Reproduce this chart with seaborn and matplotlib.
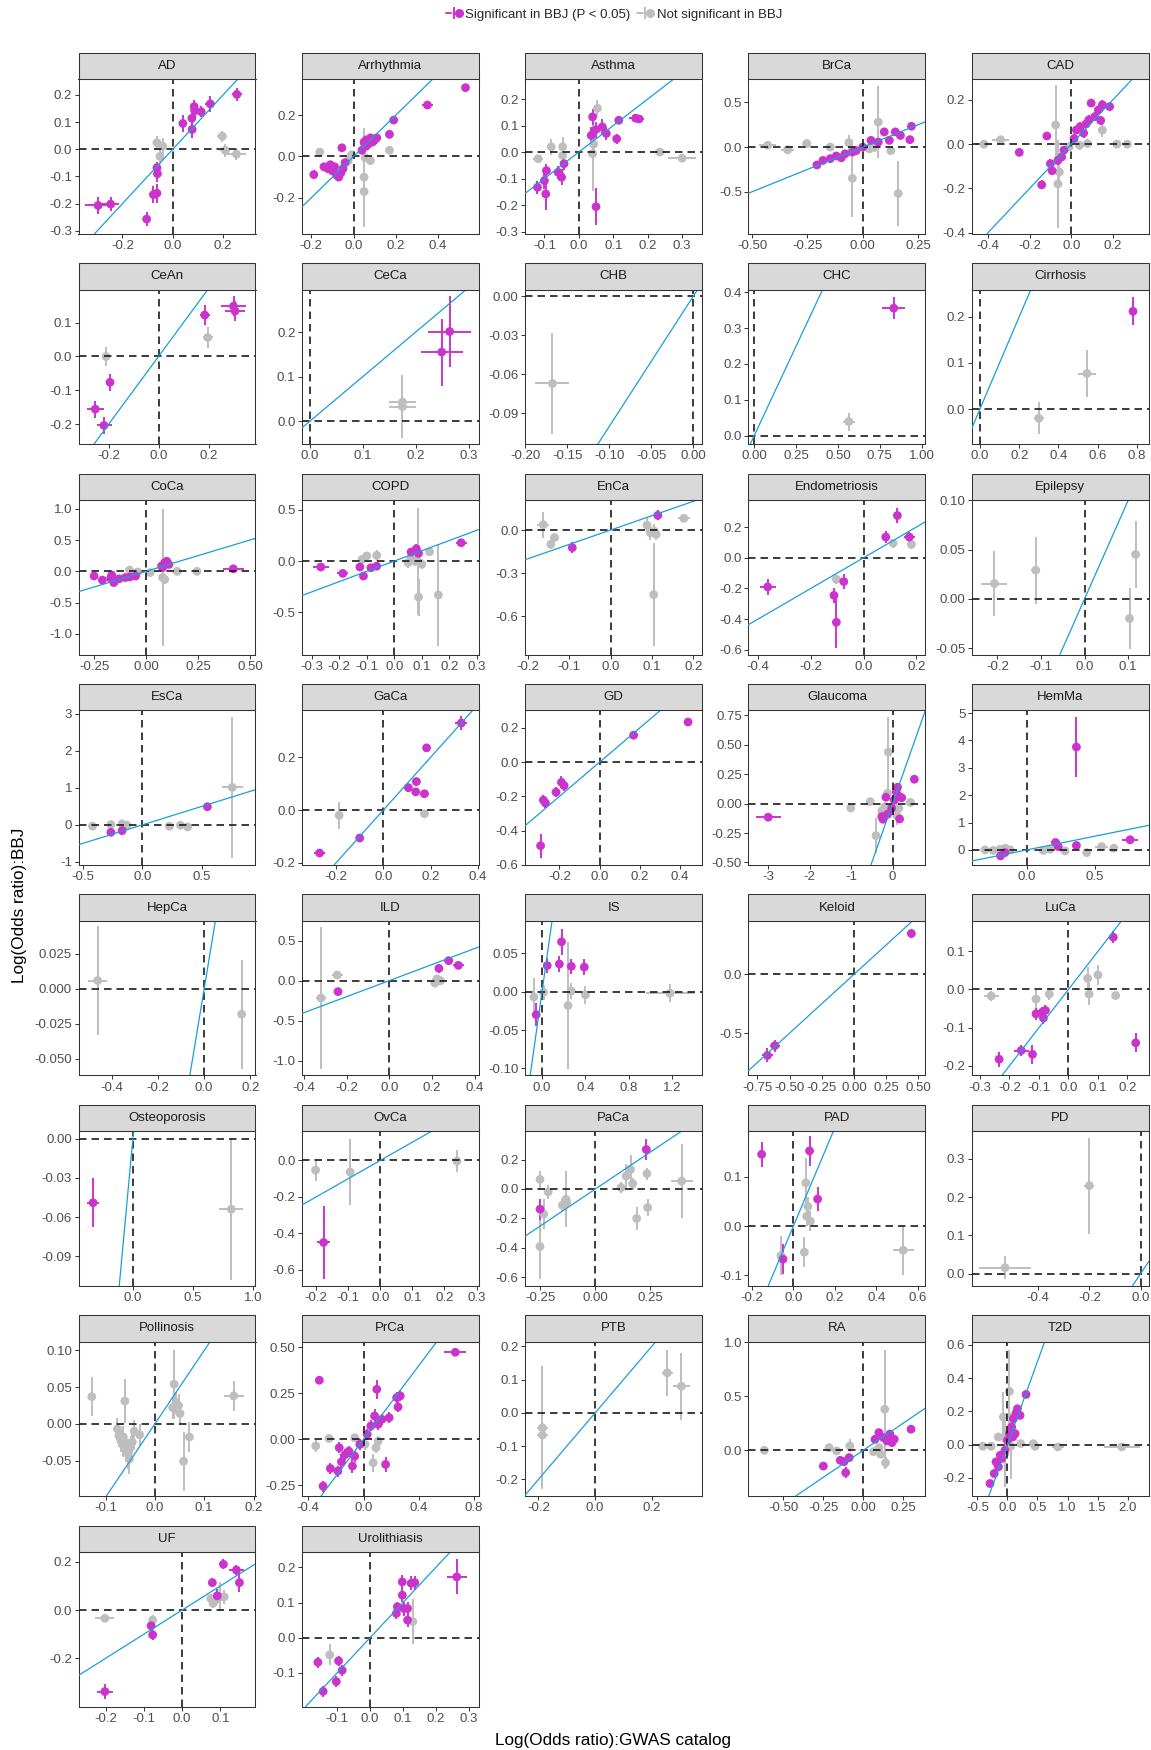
import numpy as np
import pandas as pd
import matplotlib
matplotlib.use("Agg")
import matplotlib.pyplot as plt
import seaborn as sns
from matplotlib.patches import Rectangle
from matplotlib.lines import Line2D
from matplotlib.legend_handler import HandlerTuple

# ---------------- data: (x, y, x_err, y_err, significant) ----------------
AD = [(-0.297,-0.207,0.051,0.03,1),(-0.247,-0.202,0.033,0.025,1),(-0.104,-0.257,0.01,0.025,1),
      (-0.077,-0.167,0.01,0.03,1),(-0.063,-0.162,0.01,0.035,1),(-0.061,-0.090,0.01,0.03,1),
      (-0.063,-0.068,0.01,0.02,1),(0.040,0.095,0.01,0.03,1),(0.077,0.073,0.01,0.03,1),
      (0.076,0.114,0.01,0.025,1),(0.085,0.157,0.012,0.025,1),(0.087,0.142,0.012,0.025,1),
      (0.113,0.138,0.012,0.02,1),(0.149,0.167,0.02,0.03,1),(0.255,0.202,0.02,0.025,1),
      (-0.063,0.024,0.012,0.025,0),(-0.040,0.011,0.012,0.03,0),(-0.051,-0.026,0.01,0.03,0),
      (0.197,0.048,0.02,0.02,0),(0.209,-0.004,0.02,0.025,0),(0.253,-0.018,0.04,0.02,0)]
Arrhythmia = [(-0.188,-0.088,0.01,0.02,1),(-0.14,-0.05,0.01,0.02,1),(-0.12,-0.06,0.01,0.02,1),
      (-0.10,-0.07,0.01,0.02,1),(-0.09,-0.05,0.01,0.02,1),(-0.08,-0.09,0.01,0.02,1),(-0.06,-0.08,0.01,0.02,1),
      (-0.05,-0.06,0.01,0.02,1),(-0.04,-0.03,0.01,0.02,1),(-0.11,-0.04,0.01,0.02,1),(-0.07,-0.10,0.01,0.02,1),
      (-0.055,0.042,0.01,0.02,1),(0.05,0.07,0.01,0.02,1),(0.06,0.08,0.01,0.02,1),(0.07,0.06,0.01,0.02,1),
      (0.08,0.09,0.01,0.02,1),(0.09,0.07,0.01,0.02,1),(0.10,0.08,0.01,0.02,1),(0.11,0.09,0.01,0.02,1),
      (0.06,0.05,0.01,0.02,1),(0.04,0.03,0.01,0.02,1),(0.17,0.107,0.01,0.02,1),(0.19,0.176,0.01,0.02,1),
      (0.35,0.249,0.025,0.015,1),(0.53,0.333,0.01,0.015,1),
      (-0.16,0.021,0.02,0.015,0),(-0.025,-0.02,0.01,0.02,0),(-0.01,0.008,0.01,0.02,0),
      (0.05,-0.10,0.01,0.05,0),(0.05,-0.17,0.01,0.17,0),(0.055,-0.006,0.01,0.02,0),(0.05,0.06,0.01,0.08,0),
      (0.17,0.03,0.01,0.02,0),(0.08,-0.02,0.01,0.02,0)]
Asthma = [(-0.12,-0.133,0.01,0.025,1),(-0.10,-0.108,0.01,0.03,1),(-0.094,-0.07,0.01,0.025,1),
      (-0.096,-0.158,0.01,0.06,1),(-0.06,-0.076,0.01,0.025,1),(-0.05,-0.095,0.01,0.03,1),
      (-0.043,-0.044,0.01,0.025,1),(0.04,0.133,0.01,0.03,1),(0.036,0.063,0.01,0.03,1),
      (0.05,0.085,0.01,0.03,1),(0.068,0.095,0.01,0.03,1),(0.08,0.07,0.01,0.025,1),
      (0.05,-0.206,0.01,0.07,1),(0.11,0.05,0.01,0.02,1),(0.116,0.12,0.01,0.015,1),
      (0.165,0.128,0.02,0.01,1),(0.175,0.125,0.015,0.01,1),
      (-0.118,-0.025,0.015,0.015,0),(-0.08,0.02,0.01,0.03,0),(-0.047,0.02,0.01,0.03,0),
      (-0.047,-0.013,0.01,0.07,0),(0.04,-0.006,0.01,0.14,0),(0.054,0.165,0.01,0.03,0),
      (0.043,0.03,0.01,0.03,0),(0.235,0.0,0.02,0.01,0),(0.3,-0.023,0.04,0.01,0)]
BrCa = [(-0.43,0.02,0.04,0.03,0),(-0.34,-0.03,0.03,0.03,0),(-0.253,0.04,0.02,0.03,0),(-0.147,0.0,0.015,0.03,0),
      (-0.063,0.05,0.01,0.08,0),(-0.047,-0.35,0.01,0.43,0),(0.07,0.28,0.01,0.4,0),(0.127,-0.04,0.01,0.05,0),
      (0.16,-0.52,0.01,0.36,0),(0.053,0.0,0.01,0.05,0),(0.03,-0.02,0.01,0.05,0),
      (-0.207,-0.2,0.012,0.03,1),(-0.147,-0.13,0.012,0.03,1),(-0.12,-0.1,0.012,0.03,1),(-0.097,-0.12,0.012,0.03,1),
      (-0.08,-0.075,0.012,0.03,1),(-0.047,-0.056,0.012,0.03,1),(-0.03,-0.04,0.012,0.03,1),(0.037,0.075,0.012,0.03,1),
      (0.07,0.056,0.012,0.03,1),(0.097,0.17,0.012,0.03,1),(0.12,0.075,0.012,0.03,1),(0.147,0.17,0.012,0.03,1),
      (0.17,0.13,0.012,0.03,1),(0.213,0.083,0.012,0.03,1),(0.22,0.233,0.012,0.03,1),(-0.18,-0.15,0.012,0.03,1),
      (0.0,0.0,0.012,0.03,1)]
CAD = [(-0.42,0.0,0.04,0.015,0),(-0.34,0.02,0.04,0.015,0),(-0.075,0.087,0.01,0.18,0),(-0.064,-0.18,0.01,0.2,0),
      (-0.057,-0.126,0.01,0.04,0),(0.15,0.064,0.01,0.03,0),(0.22,0.0,0.02,0.015,0),(0.27,0.0,0.02,0.015,0),
      (0.04,-0.005,0.01,0.02,0),(0.078,0.003,0.01,0.02,0),(-0.01,-0.012,0.01,0.02,0),
      (-0.25,-0.037,0.01,0.015,1),(-0.117,0.037,0.01,0.015,1),(-0.142,-0.184,0.01,0.02,1),(-0.1,-0.088,0.01,0.02,1),
      (-0.092,-0.12,0.01,0.02,1),(-0.064,-0.073,0.01,0.02,1),(-0.046,-0.058,0.01,0.02,1),(-0.035,-0.027,0.01,0.02,1),
      (0.025,0.064,0.01,0.02,1),(0.043,0.079,0.01,0.02,1),(0.071,0.091,0.01,0.02,1),(0.085,0.11,0.01,0.02,1),
      (0.096,0.186,0.01,0.02,1),(0.114,0.125,0.01,0.02,1),(0.131,0.155,0.01,0.02,1),(0.15,0.178,0.01,0.02,1),
      (0.185,0.17,0.01,0.02,1),(0.142,0.107,0.01,0.02,1),(0.06,0.05,0.01,0.02,1),(0.014,0.026,0.01,0.02,1)]
CeAn = [(-0.253,-0.155,0.035,0.025,1),(-0.218,-0.203,0.03,0.025,1),(-0.194,-0.076,0.015,0.025,1),
      (0.185,0.122,0.02,0.03,1),(0.3,0.148,0.05,0.03,1),(0.306,0.134,0.04,0.03,1),
      (-0.21,0.0,0.015,0.027,0),(0.197,0.056,0.02,0.03,0)]
CeCa = [(0.264,0.201,0.04,0.08,1),(0.249,0.155,0.04,0.075,1),(0.175,0.043,0.025,0.01,0),(0.175,0.033,0.025,0.07,0)]
CHB = [(-0.168,-0.067,0.02,0.039,0)]
CHC = [(0.833,0.356,0.07,0.03,1),(0.564,0.039,0.035,0.025,0)]
Cirrhosis = [(0.30,-0.02,0.025,0.035,0),(0.545,0.077,0.045,0.05,0),(0.78,0.212,0.02,0.03,1)]
CoCa = [(-0.25,-0.075,0.015,0.03,1),(-0.21,-0.14,0.015,0.03,1),(-0.17,-0.11,0.01,0.03,1),(-0.155,-0.18,0.01,0.04,1),
      (-0.13,-0.12,0.01,0.03,1),(-0.1,-0.1,0.01,0.03,1),(-0.078,-0.09,0.01,0.03,1),(-0.05,-0.075,0.01,0.03,1),
      (-0.165,-0.06,0.01,0.03,1),(0.075,0.085,0.01,0.04,1),(0.09,0.14,0.01,0.05,1),(0.11,0.11,0.01,0.05,1),
      (0.08,0.06,0.01,0.04,1),(0.10,0.16,0.01,0.04,1),(0.42,0.04,0.05,0.03,1),
      (-0.08,0.02,0.01,0.03,0),(-0.04,-0.01,0.01,0.03,0),(0.08,-0.1,0.01,1.1,0),(0.15,0.0,0.01,0.03,0),
      (0.245,0.0,0.015,0.03,0),(0.02,-0.02,0.01,0.03,0),(0.09,-0.13,0.01,0.08,0)]
COPD = [(-0.267,-0.058,0.03,0.02,1),(-0.187,-0.12,0.02,0.03,1),(-0.112,-0.146,0.01,0.03,1),(-0.125,-0.058,0.01,0.04,1),
      (-0.085,-0.065,0.01,0.04,1),(-0.064,-0.05,0.01,0.03,1),(0.061,0.088,0.01,0.04,1),(0.08,0.12,0.01,0.05,1),
      (0.088,0.075,0.01,0.04,1),(0.243,0.178,0.02,0.02,1),
      (-0.117,0.016,0.01,0.04,0),(-0.1,0.05,0.01,0.04,0),(-0.064,0.055,0.01,0.05,0),(0.05,-0.016,0.01,0.05,0),
      (0.075,0.0,0.01,0.05,0),(0.085,0.0,0.01,0.52,0),(0.088,-0.35,0.01,0.18,0),(0.16,-0.33,0.01,0.5,0),
      (0.128,0.09,0.01,0.03,0),(0.061,0.03,0.01,0.03,0),(0.1,-0.03,0.01,0.05,0)]
EnCa = [(-0.093,-0.123,0.01,0.04,1),(0.114,0.102,0.01,0.035,1),(-0.163,0.037,0.015,0.09,0),(-0.145,-0.1,0.01,0.03,0),
      (-0.136,-0.053,0.01,0.03,0),(0.088,0.033,0.01,0.05,0),(0.096,-0.02,0.01,0.05,0),(0.105,-0.007,0.01,0.05,0),
      (0.104,-0.45,0.01,0.36,0),(0.177,0.081,0.015,0.02,0),(0.11,-0.03,0.01,0.04,0)]
Endometriosis = [(-0.363,-0.19,0.03,0.05,1),(-0.112,-0.245,0.01,0.05,1),(-0.103,-0.42,0.01,0.17,1),
      (-0.075,-0.155,0.01,0.05,1),(0.084,0.135,0.01,0.04,1),(0.128,0.275,0.01,0.05,1),(0.173,0.135,0.02,0.03,1),
      (-0.103,-0.14,0.01,0.03,0),(0.112,0.095,0.01,0.03,0),(0.181,0.087,0.015,0.03,0)]
Epilepsy = [(-0.207,0.0155,0.03,0.033,0),(-0.112,0.029,0.01,0.034,0),(0.103,-0.02,0.005,0.031,0),(0.117,0.045,0.01,0.034,0)]
EsCa = [(-0.418,-0.036,0.04,0.05,0),(-0.264,0.01,0.02,0.05,0),(-0.17,0.027,0.02,0.05,0),(-0.129,-0.01,0.02,0.05,0),
      (0.227,-0.036,0.02,0.05,0),(0.32,-0.01,0.02,0.05,0),(0.38,-0.055,0.02,0.05,0),(0.755,1.01,0.09,1.9,0),
      (-0.264,-0.2,0.02,0.06,1),(-0.17,-0.155,0.02,0.06,1),(0.546,0.49,0.02,0.06,1)]
GaCa = [(-0.27,-0.163,0.025,0.01,1),(-0.1,-0.106,0.01,0.015,1),(0.106,0.085,0.01,0.015,1),(0.14,0.108,0.01,0.015,1),
      (0.137,0.069,0.01,0.012,1),(0.174,0.062,0.02,0.015,1),(0.183,0.236,0.015,0.015,1),(0.33,0.33,0.025,0.025,1),
      (-0.187,-0.02,0.01,0.05,0),(0.174,-0.014,0.01,0.01,0)]
GD = [(-0.294,-0.488,0.01,0.07,1),(-0.28,-0.222,0.01,0.03,1),(-0.27,-0.238,0.01,0.03,1),(-0.217,-0.175,0.01,0.03,1),
      (-0.19,-0.118,0.01,0.035,1),(-0.177,-0.137,0.01,0.03,1),(0.169,0.157,0.02,0.02,1),(0.44,0.234,0.01,0.025,1)]
Glaucoma = [(-3.0,-0.116,0.3,0.01,1),(-0.16,0.054,0.03,0.02,1),(-0.26,-0.11,0.03,0.03,1),(-0.23,-0.133,0.03,0.03,1),
      (-0.12,-0.09,0.03,0.03,1),(0.09,0.1,0.03,0.03,1),(0.12,0.139,0.03,0.03,1),(0.17,0.06,0.03,0.03,1),
      (0.22,0.05,0.03,0.02,1),(0.17,-0.13,0.03,0.02,1),(0.525,0.207,0.03,0.02,1),(0.04,0.03,0.03,0.03,1),
      (-0.02,-0.04,0.03,0.03,1),
      (-1.01,-0.037,0.1,0.02,0),(-0.54,0.017,0.05,0.02,0),(-0.4,-0.272,0.03,0.15,0),(-0.1,0.437,0.03,0.3,0),
      (-0.12,0.088,0.03,0.07,0),(-0.26,-0.06,0.03,0.03,0),(-0.18,-0.025,0.03,0.03,0),(-0.06,-0.06,0.03,0.04,0),
      (0.06,-0.01,0.03,0.03,0),(0.15,-0.04,0.03,0.03,0),(0.43,0.01,0.03,0.02,0),(-0.14,-0.08,0.03,0.03,0),
      (0.1,-0.1,0.03,0.08,0)]
HemMa = [(-0.196,-0.22,0.02,0.08,1),(-0.163,-0.1,0.02,0.08,1),(0.21,0.27,0.03,0.08,1),(0.364,0.16,0.02,0.08,1),
      (0.364,3.76,0.02,1.1,1),(0.76,0.37,0.06,0.08,1),(0.23,0.12,0.02,0.08,1),
      (-0.31,0.0,0.02,0.06,0),(-0.25,-0.02,0.02,0.06,0),(-0.2,0.02,0.02,0.06,0),(-0.16,0.06,0.02,0.06,0),
      (-0.125,0.0,0.02,0.06,0),(0.12,-0.02,0.02,0.06,0),(0.17,0.02,0.02,0.06,0),(0.28,-0.04,0.02,0.06,0),
      (0.44,-0.1,0.02,0.06,0),(0.55,0.12,0.05,0.06,0),(0.64,0.06,0.03,0.06,0)]
HepCa = [(-0.46,0.006,0.04,0.039,0),(0.162,-0.018,0.005,0.039,0)]
ILD = [(-0.24,-0.137,0.02,0.05,1),(0.233,0.153,0.02,0.06,1),(0.279,0.249,0.02,0.05,1),(0.324,0.19,0.025,0.04,1),
      (-0.32,-0.216,0.025,0.88,0),(-0.244,0.07,0.025,0.04,0),(0.214,-0.03,0.02,0.04,0),(0.223,0.02,0.02,0.05,0),
      (0.24,0.0,0.02,0.05,0)]
IS = [(-0.054,-0.03,0.01,0.015,1),(0.048,0.034,0.01,0.01,1),(0.16,0.036,0.01,0.01,1),(0.18,0.065,0.01,0.017,1),
      (0.27,0.033,0.01,0.01,1),(0.39,0.032,0.02,0.01,1),
      (-0.075,-0.007,0.01,0.025,0),(0.014,-0.001,0.01,0.01,0),(0.24,-0.018,0.01,0.083,0),(0.27,0.001,0.01,0.01,0),
      (0.4,-0.004,0.03,0.012,0),(1.18,-0.002,0.22,0.012,0)]
Keloid = [(-0.672,-0.69,0.04,0.06,1),(-0.615,-0.607,0.04,0.05,1),(0.445,0.347,0.03,0.04,1)]
LuCa = [(-0.235,-0.183,0.01,0.02,1),(-0.16,-0.16,0.025,0.015,1),(-0.122,-0.17,0.01,0.025,1),(-0.11,-0.064,0.01,0.015,1),
      (-0.09,-0.06,0.01,0.015,1),(-0.085,-0.075,0.01,0.015,1),(-0.078,-0.055,0.01,0.015,1),(0.152,0.137,0.01,0.015,1),
      (0.228,-0.14,0.01,0.025,1),
      (-0.262,-0.017,0.025,0.012,0),(-0.11,-0.025,0.01,0.025,0),(-0.065,-0.012,0.01,0.015,0),(0.065,0.029,0.01,0.03,0),
      (0.07,-0.012,0.01,0.03,0),(0.1,0.038,0.01,0.025,0),(0.16,-0.016,0.01,0.01,0)]
Osteoporosis = [(-0.33,-0.049,0.05,0.019,1),(0.817,-0.054,0.1,0.054,0)]
OvCa = [(-0.177,-0.45,0.02,0.2,1),(-0.202,-0.053,0.01,0.06,0),(-0.094,-0.064,0.01,0.18,0),(0.239,-0.004,0.01,0.06,0)]
PaCa = [(-0.252,-0.137,0.02,0.07,1),(0.232,0.268,0.01,0.07,1),
      (-0.252,0.065,0.01,0.06,0),(-0.252,-0.39,0.01,0.22,0),(-0.235,-0.17,0.01,0.1,0),(-0.215,-0.02,0.01,0.05,0),
      (-0.15,-0.11,0.01,0.04,0),(-0.134,-0.07,0.01,0.19,0),(-0.13,-0.09,0.01,0.04,0),(0.117,0.01,0.01,0.04,0),
      (0.14,0.088,0.01,0.08,0),(0.16,0.133,0.01,0.1,0),(0.17,0.036,0.01,0.04,0),(0.188,-0.2,0.01,0.08,0),
      (0.235,0.104,0.02,0.04,0),(0.238,-0.126,0.01,0.06,0),(0.393,0.054,0.05,0.25,0)]
PAD = [(-0.153,0.146,0.01,0.025,1),(-0.05,-0.067,0.01,0.03,1),(0.078,0.153,0.01,0.03,1),(0.117,0.055,0.01,0.025,1),
      (0.06,0.088,0.01,0.05,0),(0.07,0.04,0.01,0.02,0),(0.064,0.02,0.01,0.02,0),(0.082,0.01,0.01,0.02,0),
      (-0.06,-0.06,0.01,0.04,0),(0.053,-0.053,0.01,0.03,0),(0.53,-0.049,0.05,0.05,0)]
PD = [(-0.53,0.016,0.1,0.03,0),(-0.2,0.23,0.02,0.125,0)]
Pollinosis = [(-0.128,0.037,0.005,0.027,0),(-0.061,0.031,0.005,0.03,0),(-0.076,-0.007,0.005,0.015,0),
      (-0.073,-0.016,0.005,0.015,0),(-0.069,-0.023,0.005,0.015,0),(-0.064,-0.03,0.005,0.015,0),
      (-0.058,-0.037,0.005,0.015,0),(-0.054,-0.041,0.005,0.02,0),(-0.049,-0.032,0.005,0.015,0),
      (-0.046,-0.025,0.005,0.015,0),(-0.042,-0.01,0.005,0.015,0),(-0.052,-0.048,0.005,0.02,0),
      (-0.064,-0.018,0.005,0.015,0),(-0.031,-0.015,0.005,0.015,0),(0.039,0.054,0.005,0.047,0),
      (0.043,0.029,0.005,0.015,0),(0.048,0.025,0.005,0.015,0),(0.051,0.014,0.005,0.015,0),
      (0.058,-0.051,0.005,0.04,0),(0.07,-0.018,0.005,0.02,0),(0.16,0.038,0.02,0.02,0),(0.036,0.022,0.005,0.015,0)]
PrCa = [(-0.32,0.321,0.02,0.02,1),(-0.293,-0.254,0.02,0.03,1),(-0.24,-0.158,0.01,0.03,1),(-0.186,-0.172,0.01,0.03,1),
      (-0.176,-0.045,0.01,0.03,1),(-0.16,-0.122,0.01,0.04,1),(-0.133,-0.082,0.01,0.03,1),(-0.106,-0.064,0.01,0.03,1),
      (-0.08,-0.145,0.01,0.04,1),(-0.064,-0.091,0.01,0.03,1),(0.053,0.073,0.01,0.03,1),(0.08,0.127,0.01,0.04,1),
      (0.096,0.272,0.01,0.05,1),(0.133,0.109,0.01,0.03,1),(0.16,-0.136,0.01,0.04,1),(0.186,0.118,0.01,0.03,1),
      (0.24,0.227,0.01,0.03,1),(0.266,0.236,0.01,0.03,1),(0.25,0.176,0.01,0.03,1),(0.665,0.473,0.08,0.02,1),
      (0.027,0.027,0.01,0.03,1),(-0.027,-0.027,0.01,0.03,1),(0.106,0.082,0.01,0.03,1),
      (-0.346,-0.036,0.02,0.03,0),(-0.25,0.005,0.01,0.02,0),(-0.064,0.009,0.01,0.02,0),(0.01,-0.027,0.01,0.03,0),
      (0.07,-0.127,0.01,0.05,0),(0.09,-0.045,0.01,0.03,0),(0.106,-0.01,0.01,0.03,0)]
PTB = [(-0.186,-0.045,0.02,0.185,0),(-0.186,-0.067,0.02,0.01,0),(0.254,0.12,0.02,0.07,0),(0.304,0.08,0.03,0.1,0)]
RA = [(-0.25,-0.146,0.015,0.03,1),(-0.144,-0.093,0.01,0.03,1),(-0.12,-0.105,0.01,0.03,1),(-0.11,-0.207,0.01,0.05,1),
      (-0.088,-0.068,0.01,0.03,1),(0.074,0.102,0.01,0.03,1),(0.098,0.164,0.01,0.03,1),(0.126,0.118,0.01,0.03,1),
      (0.149,0.087,0.01,0.03,1),(0.167,0.15,0.01,0.03,1),(0.18,0.071,0.01,0.03,1),(0.195,0.102,0.01,0.03,1),
      (0.3,0.195,0.02,0.02,1),
      (-0.62,0.0,0.03,0.02,0),(-0.214,0.025,0.01,0.02,0),(-0.167,-0.006,0.01,0.02,0),(-0.084,0.04,0.01,0.06,0),
      (0.11,-0.037,0.01,0.03,0),(0.135,0.38,0.01,0.55,0),(0.14,-0.115,0.01,0.05,0),(0.1,0.025,0.01,0.02,0),
      (0.065,-0.012,0.01,0.02,0)]
T2D = [(-0.41,-0.01,0.03,0.01,0),(-0.27,-0.01,0.03,0.01,0),(-0.15,0.046,0.02,0.02,0),(-0.067,0.166,0.01,0.15,0),
      (0.033,0.32,0.01,0.25,0),(0.0,-0.01,0.01,0.02,0),(0.055,-0.01,0.01,0.2,0),(0.22,0.006,0.02,0.01,0),
      (0.43,0.006,0.02,0.01,0),(0.46,-0.01,0.02,0.01,0),(0.84,-0.014,0.1,0.01,0),(1.9,-0.014,0.3,0.01,0),
      (-0.04,-0.054,0.01,0.2,0),
      (-0.29,-0.234,0.02,0.02,1),(-0.22,-0.174,0.02,0.02,1),(-0.19,-0.104,0.02,0.02,1),(-0.15,-0.134,0.02,0.02,1),
      (-0.12,-0.064,0.02,0.02,1),(-0.094,-0.084,0.02,0.02,1),(-0.04,-0.034,0.02,0.02,1),(0.0,0.026,0.02,0.02,1),
      (0.033,0.066,0.02,0.02,1),(0.07,0.106,0.02,0.02,1),(0.1,0.156,0.02,0.02,1),(0.144,0.19,0.02,0.02,1),
      (0.167,0.216,0.02,0.02,1),(0.21,0.176,0.02,0.02,1),(0.31,0.302,0.02,0.02,1),(0.128,0.066,0.02,0.02,1),
      (0.09,0.046,0.02,0.02,1)]
UF = [(-0.202,-0.338,0.02,0.03,1),(-0.081,-0.065,0.005,0.02,1),(-0.077,-0.103,0.005,0.02,1),(0.079,0.114,0.008,0.02,1),
      (0.092,0.059,0.008,0.03,1),(0.108,0.19,0.008,0.02,1),(0.142,0.166,0.02,0.02,1),(0.15,0.114,0.008,0.04,1),
      (-0.202,-0.034,0.025,0.01,0),(-0.077,-0.041,0.005,0.02,0),(0.075,0.048,0.008,0.02,0),(0.081,0.028,0.008,0.02,0),
      (0.087,0.041,0.008,0.02,0),(0.1,0.055,0.008,0.06,0),(0.11,0.055,0.008,0.03,0)]
Urolithiasis = [(-0.143,-0.153,0.01,0.015,1),(-0.159,-0.07,0.012,0.015,1),(-0.103,-0.125,0.008,0.015,1),
      (-0.096,-0.066,0.008,0.015,1),(-0.085,-0.093,0.008,0.015,1),(0.08,0.069,0.008,0.015,1),(0.083,0.088,0.008,0.015,1),
      (0.098,0.159,0.008,0.02,1),(0.098,0.121,0.008,0.02,1),(0.103,0.083,0.008,0.02,1),(0.114,0.05,0.008,0.02,1),
      (0.114,0.083,0.008,0.02,1),(0.125,0.155,0.008,0.02,1),(0.136,0.157,0.008,0.02,1),(0.264,0.173,0.03,0.05,1),
      (-0.123,-0.049,0.008,0.03,0),(0.13,0.046,0.008,0.065,0)]

panels = ["AD","Arrhythmia","Asthma","BrCa","CAD","CeAn","CeCa","CHB","CHC","Cirrhosis",
          "CoCa","COPD","EnCa","Endometriosis","Epilepsy","EsCa","GaCa","GD","Glaucoma","HemMa",
          "HepCa","ILD","IS","Keloid","LuCa","Osteoporosis","OvCa","PaCa","PAD","PD",
          "Pollinosis","PrCa","PTB","RA","T2D","UF","Urolithiasis"]
panel_data = [AD,Arrhythmia,Asthma,BrCa,CAD,CeAn,CeCa,CHB,CHC,Cirrhosis,CoCa,COPD,EnCa,Endometriosis,
              Epilepsy,EsCa,GaCa,GD,Glaucoma,HemMa,HepCa,ILD,IS,Keloid,LuCa,Osteoporosis,OvCa,PaCa,PAD,PD,
              Pollinosis,PrCa,PTB,RA,T2D,UF,Urolithiasis]

xlims = [(-0.375,0.329),(-0.245,0.593),(-0.156,0.358),(-0.517,0.283),(-0.479,0.373),
         (-0.32,0.388),(-0.015,0.319),(-0.198,0.0104),(-0.035,1.022),(-0.042,0.86),
         (-0.325,0.527),(-0.336,0.307),(-0.207,0.221),(-0.436,0.234),(-0.259,0.147),
         (-0.536,0.95),(-0.345,0.404),(-0.371,0.51),(-3.477,0.792),(-0.408,0.897),
         (-0.543,0.222),(-0.41,0.42),(-0.156,1.476),(-0.82,0.554),(-0.328,0.272),
         (-0.451,1.018),(-0.245,0.307),(-0.32,0.486),(-0.217,0.637),(-0.66,0.032),
         (-0.155,0.204),(-0.447,0.835),(-0.247,0.377),(-0.72,0.39),(-0.594,2.35),
         (-0.271,0.192),(-0.208,0.331)]
ylims = [(-0.311,0.258),(-0.374,0.374),(-0.308,0.275),(-0.97,0.76),(-0.405,0.294),
         (-0.258,0.197),(-0.051,0.295),(-0.1135,0.005),(-0.024,0.408),(-0.076,0.259),
         (-1.328,1.139),(-0.909,0.594),(-0.867,0.209),(-0.63,0.376),(-0.0566,0.1003),
         (-1.08,3.09),(-0.208,0.378),(-0.599,0.302),(-0.521,0.792),(-0.55,5.1),
         (-0.0617,0.0487),(-1.18,0.746),(-0.109,0.0924),(-0.859,0.455),(-0.225,0.18),
         (-0.1127,0.0059),(-0.687,0.16),(-0.656,0.392),(-0.121,0.193),(-0.031,0.372),
         (-0.0985,0.112),(-0.308,0.531),(-0.25,0.214),(-0.424,1.006),(-0.31,0.62),
         (-0.4,0.241),(-0.196,0.244)]
xtick_vals = [[-0.2,0,0.2],[-0.2,0,0.2,0.4],[-0.1,0,0.1,0.2,0.3],[-0.5,-0.25,0,0.25],[-0.4,-0.2,0,0.2],
         [-0.2,0,0.2],[0,0.1,0.2,0.3],[-0.2,-0.15,-0.1,-0.05,0],[0,0.25,0.5,0.75,1],[0,0.2,0.4,0.6,0.8],
         [-0.25,0,0.25,0.5],[-0.3,-0.2,-0.1,0,0.1,0.2,0.3],[-0.2,-0.1,0,0.1,0.2],[-0.4,-0.2,0,0.2],[-0.2,-0.1,0,0.1],
         [-0.5,0,0.5],[-0.2,0,0.2,0.4],[-0.2,0,0.2,0.4],[-3,-2,-1,0],[0,0.5],
         [-0.4,-0.2,0,0.2],[-0.4,-0.2,0,0.2,0.4],[0,0.4,0.8,1.2],[-0.75,-0.5,-0.25,0,0.25,0.5],[-0.3,-0.2,-0.1,0,0.1,0.2],
         [0,0.5,1],[-0.2,-0.1,0,0.1,0.2,0.3],[-0.25,0,0.25],[-0.2,0,0.2,0.4,0.6],[-0.4,-0.2,0],
         [-0.1,0,0.1,0.2],[-0.4,0,0.4,0.8],[-0.2,0,0.2],[-0.5,-0.25,0,0.25],[-0.5,0,0.5,1,1.5,2],
         [-0.2,-0.1,0,0.1],[-0.1,0,0.1,0.2,0.3]]
ytick_vals = [[-0.3,-0.2,-0.1,0,0.1,0.2],[-0.2,0,0.2],[-0.3,-0.2,-0.1,0,0.1,0.2],[-0.5,0,0.5],[-0.4,-0.2,0,0.2],
         [-0.2,-0.1,0,0.1],[0,0.1,0.2],[-0.09,-0.06,-0.03,0],[0,0.1,0.2,0.3,0.4],[0,0.1,0.2],
         [-1,-0.5,0,0.5,1],[-0.5,0,0.5],[-0.6,-0.3,0],[-0.6,-0.4,-0.2,0,0.2],[-0.05,0,0.05,0.1],
         [-1,0,1,2,3],[-0.2,0,0.2],[-0.6,-0.4,-0.2,0,0.2],[-0.5,-0.25,0,0.25,0.5,0.75],[0,1,2,3,4,5],
         [-0.05,-0.025,0,0.025],[-1,-0.5,0,0.5],[-0.1,-0.05,0,0.05],[-0.5,0],[-0.2,-0.1,0,0.1],
         [-0.09,-0.06,-0.03,0],[-0.6,-0.4,-0.2,0],[-0.6,-0.4,-0.2,0,0.2],[-0.1,0,0.1],[0,0.1,0.2,0.3],
         [-0.05,0,0.05,0.1],[-0.25,0,0.25,0.5],[-0.2,-0.1,0,0.1,0.2],[0,0.5,1],[-0.2,0,0.2,0.4,0.6],
         [-0.2,0,0.2],[-0.1,0,0.1,0.2]]

legend_labels = ["Significant in BBJ (P < 0.05)", "Not significant in BBJ"]
x_title = "Log(Odds ratio):GWAS catalog"
y_title = "Log(Odds ratio):BBJ"

# ---------------- style ----------------
MAG = "#CC33CC"
GRAY = "#BEBEBE"
BLUE = "#1A9ED8"
sns.set_theme(style="white")
plt.rcParams["font.family"] = ["Liberation Sans", "DejaVu Sans"]

W, H = 1151, 1750
fig = plt.figure(figsize=(W / 100, H / 100), dpi=100)


def fmt(vals):
    dec = 0
    for v in vals:
        d = 0
        while d < 4 and abs(round(v, d) - v) > 1e-9:
            d += 1
        dec = max(dec, d)
    out = []
    for v in vals:
        s = f"{v:.{dec}f}"
        if s.startswith("-") and float(s) == 0:
            s = s[1:]
        out.append(s)
    return out


strip_px = 26.5
plot_h = 154.5
plot_w = 177.0
for i, name in enumerate(panels):
    r, c = divmod(i, 5)
    left = 78.5 + c * 223.3
    top = 52.7 + r * 210.4 + strip_px
    ax = fig.add_axes([left / W, 1 - (top + plot_h) / H, plot_w / W, plot_h / H])
    df = pd.DataFrame(panel_data[i], columns=["x", "y", "ex", "ey", "sig"])
    df = df.sort_values("sig", kind="stable")
    for s, col in [(0, GRAY), (1, MAG)]:
        d = df[df.sig == s]
        if len(d):
            ax.errorbar(d.x, d.y, xerr=d.ex, yerr=d.ey, fmt="none", ecolor=col,
                        elinewidth=1.4, capsize=0, zorder=2)
    df["grp"] = df.sig.map({1: legend_labels[0], 0: legend_labels[1]})
    sns.scatterplot(data=df, x="x", y="y", hue="grp",
                    palette={legend_labels[0]: MAG, legend_labels[1]: GRAY},
                    s=40, linewidth=0, legend=False, ax=ax, zorder=3)
    ax.axhline(0, color="#1a1a1a", lw=1.2, ls=(0, (4.5, 3.0)), zorder=4)
    ax.axvline(0, color="#1a1a1a", lw=1.2, ls=(0, (4.5, 3.0)), zorder=4)
    ax.axline((0, 0), slope=1, color=BLUE, lw=0.9, zorder=5)
    ax.set_xlim(*xlims[i])
    ax.set_ylim(*ylims[i])
    ax.set_xticks(xtick_vals[i])
    ax.set_xticklabels(fmt(xtick_vals[i]))
    ax.set_yticks(ytick_vals[i])
    ax.set_yticklabels(fmt(ytick_vals[i]))
    ax.set_xlabel("")
    ax.set_ylabel("")
    ax.tick_params(axis="both", which="major", direction="out", length=2.6, width=0.7,
                   color="#333333", labelsize=9.5, labelcolor="#4D4D4D", pad=2,
                   bottom=True, left=True)
    for sp in ax.spines.values():
        sp.set_color("#333333")
        sp.set_linewidth(0.75)
    ax.grid(False)
    frac = strip_px / plot_h
    ax.add_patch(Rectangle((0, 1), 1, frac, transform=ax.transAxes, clip_on=False,
                           facecolor="#D9D9D9", edgecolor="#333333", linewidth=0.75, zorder=6))
    ax.text(0.5, 1 + frac / 2, name, transform=ax.transAxes, ha="center", va="center",
            fontsize=9.5, color="#1A1A1A", zorder=7)

fig.text(613 / W, 1 - 1741 / H, x_title, ha="center", va="center", fontsize=12.3, color="black")
fig.text(20 / W, 1 - 905 / H, y_title, ha="center", va="center", rotation=90, fontsize=12.3, color="black")

handles = []
for col in (MAG, GRAY):
    handles.append((Line2D([0], [0], color=col, lw=1.4),
                    Line2D([0], [0], color=col, marker="|", ms=8, mew=1.4, ls="none"),
                    Line2D([0], [0], color=col, marker="o", ms=5.5, ls="none")))
fig.legend(handles, legend_labels, handler_map={tuple: HandlerTuple(ndivide=None, pad=0)},
           loc="center", bbox_to_anchor=(614 / W, 1 - 15 / H), ncol=2, frameon=False,
           fontsize=9.5, handlelength=1.2, handletextpad=0.3, columnspacing=0.5)

fig.savefig("out.png", dpi=100)
